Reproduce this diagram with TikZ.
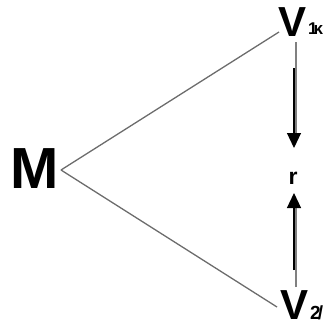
\documentclass[tikz,border=0pt]{standalone}
\usepackage{fontspec}
\setmainfont{Liberation Sans}
\usetikzlibrary{arrows.meta}
\begin{document}
\begin{tikzpicture}[x=1pt,y=-1pt,
  lbl/.style={inner sep=0pt,font=\bfseries},
  edge/.style={draw=gray!85!black,line width=1.3pt},
  grayline/.style={draw=gray,line width=2pt},
  blk/.style={draw=black,line width=1.2pt,-{Triangle[length=15pt,width=14pt]}}]
\useasboundingbox (0,0) rectangle (324,335);
\node[lbl,font=\bfseries\fontsize{58}{58}\selectfont] (M) at (35,169) {M};
\coordinate (apex) at (61,170);
\node[lbl,font=\bfseries\fontsize{42}{42}\selectfont] (V1) at (293,22) {V};
\node[lbl,font=\bfseries\fontsize{17}{17}\selectfont,anchor=west] (s1) at (308,29) {1\kern-4ptκ};
\node[lbl,font=\bfseries\fontsize{42}{42}\selectfont] (V2) at (295,305) {V};
\node[lbl,font=\bfseries\fontsize{19}{19}\selectfont,anchor=west] (s2) at (310,313) {2\kern-3pt/};
\node[lbl,font=\bfseries\fontsize{23}{23}\selectfont] (r) at (293,178) {r};
\coordinate (t1) at (279,32);
\coordinate (t2) at (277,307);
\coordinate (g1) at (296,42);
\coordinate (g2) at (296,287);
\coordinate (a1s) at (294,68);
\coordinate (a1e) at (294,148);
\coordinate (a2s) at (294,270);
\coordinate (a2e) at (294,193);
\draw[edge] (apex) -- (t1);
\draw[edge] (apex) -- (t2);
\draw[grayline] (g1) -- (296,133);
\draw[grayline] (g2) -- (296,207);
\draw[blk] (a1s) -- (a1e);
\draw[blk] (a2s) -- (a2e);
\end{tikzpicture}
\end{document}
